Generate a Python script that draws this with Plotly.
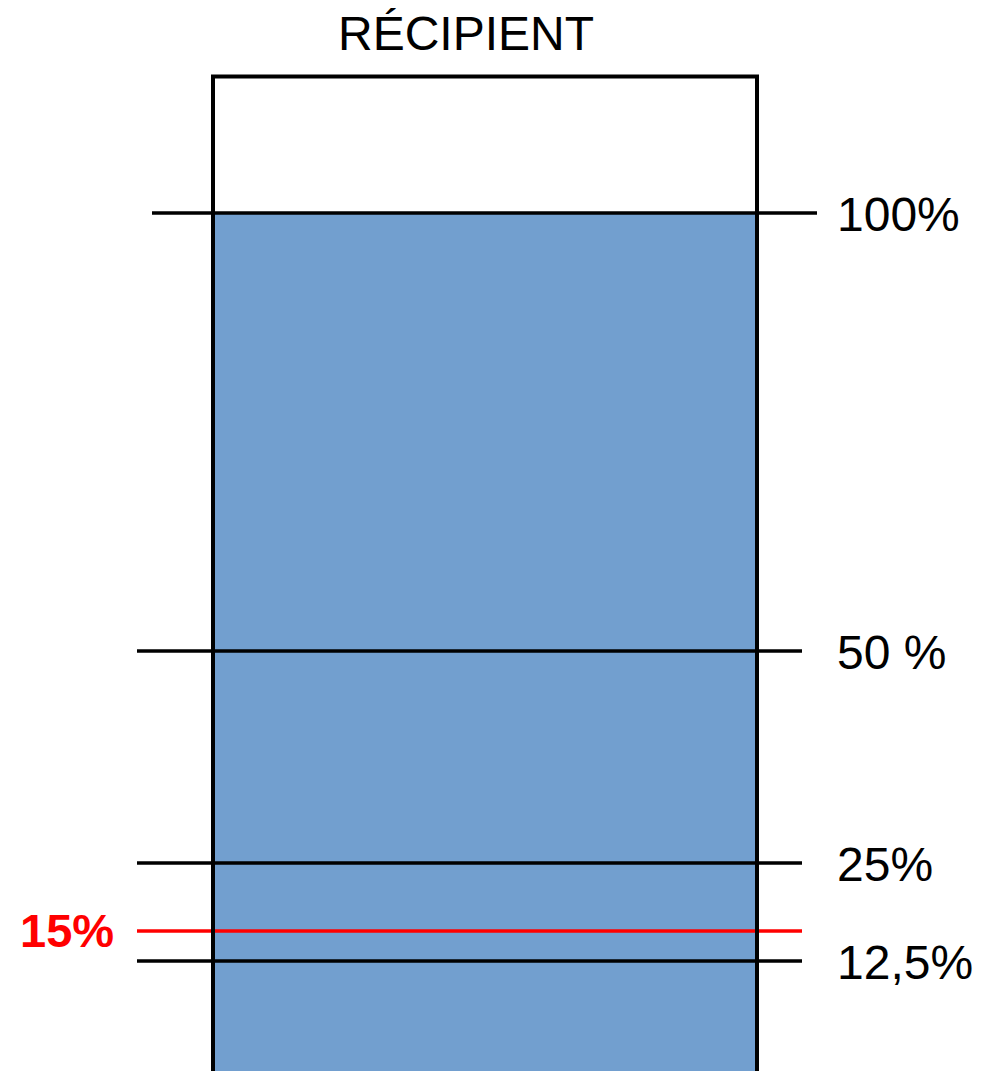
import plotly.graph_objects as go

# fill levels marked on the container (height measured from the bottom of the picture)
level_labels = ['100%', '50 %', '25%', '15%', '12,5%']
level_heights = [858, 420, 208, 140, 110]
level_colors = ['black', 'black', 'black', 'red', 'black']
level_starts = [152, 137, 137, 137, 137]
level_ends = [817, 802, 802, 802, 802]

liquid_height = 858
container_top = 994.5
container_left, container_right = 213, 757

W, H = 994, 1071
PAGE_OFFSET = 8  # default body margin of the html page
font = 'Liberation Sans, Arial, sans-serif'

fig = go.Figure()

# liquid
fig.add_trace(go.Bar(
    x=[(container_left + container_right) / 2],
    y=[liquid_height + PAGE_OFFSET],
    base=[-PAGE_OFFSET],
    width=[container_right - container_left],
    marker=dict(color='#729fcf', line=dict(width=0)),
    hoverinfo='skip',
))

# level lines
for lab, h, c, x0, x1 in zip(level_labels, level_heights, level_colors,
                             level_starts, level_ends):
    fig.add_trace(go.Scatter(
        x=[x0, x1], y=[h, h], mode='lines',
        line=dict(color=c, width=3.5), hoverinfo='skip'))
    if c == 'red':
        fig.add_annotation(x=116, y=h + 1, text='<b>' + lab + '</b>',
                           xanchor='right', yanchor='middle', showarrow=False,
                           font=dict(family=font, size=47, color='red'))
    else:
        fig.add_annotation(x=835, y=h - 1, text=lab,
                           xanchor='left', yanchor='middle', showarrow=False,
                           font=dict(family=font, size=48, color='black'))

# container outline (open at the bottom of the picture)
fig.add_trace(go.Scatter(
    x=[container_left, container_left, container_right, container_right],
    y=[-PAGE_OFFSET, container_top, container_top, -PAGE_OFFSET],
    mode='lines', line=dict(color='black', width=4), hoverinfo='skip'))

fig.add_annotation(x=466, y=H - 33, text='RÉCIPIENT', xanchor='center',
                   yanchor='middle', showarrow=False,
                   font=dict(family=font, size=48, color='black'))

fig.update_xaxes(range=[PAGE_OFFSET, W + PAGE_OFFSET], visible=False, fixedrange=True)
fig.update_yaxes(range=[-PAGE_OFFSET, H - PAGE_OFFSET], visible=False, fixedrange=True)
fig.update_layout(width=W, height=H, margin=dict(l=0, r=0, t=0, b=0),
                  plot_bgcolor='white', paper_bgcolor='white',
                  showlegend=False, bargap=0)

fig.write_html('out.html')
